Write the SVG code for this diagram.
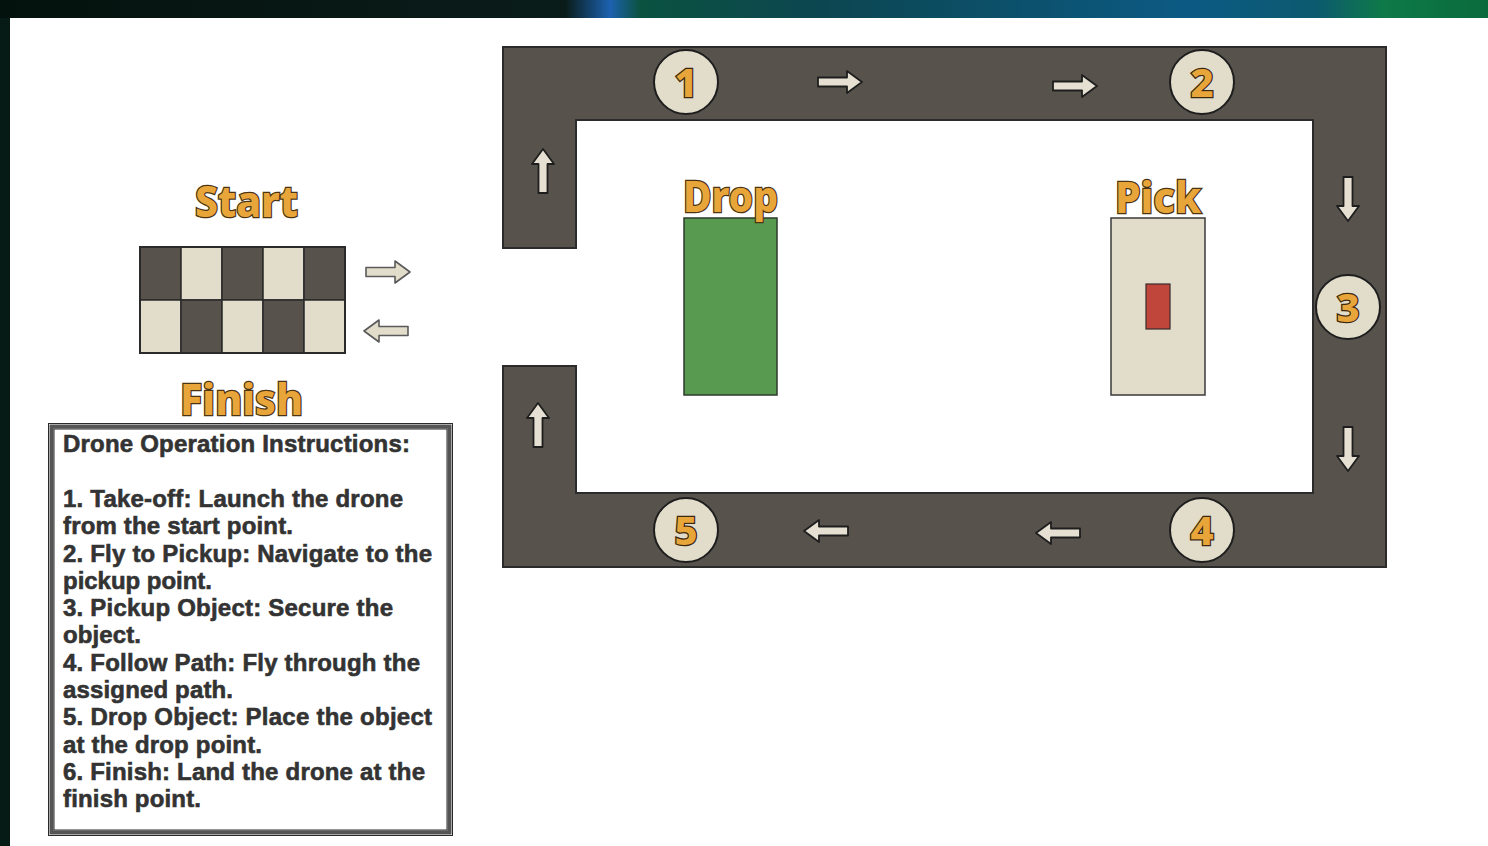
<svg xmlns="http://www.w3.org/2000/svg" width="1488" height="846" viewBox="0 0 1488 846">
<defs>
<linearGradient id="topbg" x1="0" y1="0" x2="1" y2="0">
<stop offset="0" stop-color="#04120d"/>
<stop offset="0.38" stop-color="#0a1c1a"/>
<stop offset="0.41" stop-color="#1c62b0"/>
<stop offset="0.43" stop-color="#0b5240"/>
<stop offset="0.55" stop-color="#0c4650"/>
<stop offset="0.8" stop-color="#0c5a84"/>
<stop offset="0.885" stop-color="#0c5a6e"/>
<stop offset="0.93" stop-color="#0e7a48"/>
<stop offset="1" stop-color="#0a6a3c"/>
</linearGradient>
<path id="arr" d="M-22,-4.5 H7 V-11 L22,0 L7,11 V4.5 H-22 Z"/>
<style>
.track{fill:#57534c;stroke:#2b2b2b;stroke-width:2;stroke-linejoin:miter}
.circ{fill:#e2dccb;stroke:#1e1e1e;stroke-width:2}
.num{font-family:"Noto Sans","DejaVu Sans",sans-serif;font-weight:800;font-size:40px;fill:#e8a53a;stroke:#3a2810;stroke-width:2.5;paint-order:stroke;text-anchor:middle}
.lbl{font-family:"Noto Sans","DejaVu Sans",sans-serif;font-weight:800;font-size:43px;fill:#e8a53a;stroke:#4a3414;stroke-width:2.5;paint-order:stroke}
.ta{fill:#e6e0d2;stroke:#1e1e1e;stroke-width:1.8;stroke-linejoin:round}
.sa{fill:#e2dccb;stroke:#5a5a5a;stroke-width:1.6;stroke-linejoin:round}
.dk{fill:#57534c;stroke:#2a2a2a;stroke-width:1.5}
.lt{fill:#e2dccb;stroke:#2a2a2a;stroke-width:1.5}
.ins{font-family:"Liberation Sans",Arial,sans-serif;font-weight:700;font-size:24px;fill:#333333;stroke:#333333;stroke-width:0.6}
</style>
</defs>
<rect x="0" y="0" width="1488" height="846" fill="#071b16"/>
<rect x="0" y="0" width="1488" height="18" fill="url(#topbg)"/>
<rect x="10" y="18" width="1478" height="828" fill="#ffffff"/>

<g id="track">
<path class="track" d="M503,47 H1386 V567 H503 V366 H576 V493 H1313 V120 H576 V248 H503 Z"/>
</g>

<g id="start-grid">
<rect class="dk" x="140" y="247" width="41" height="53"/>
<rect class="lt" x="181" y="247" width="41" height="53"/>
<rect class="dk" x="222" y="247" width="41" height="53"/>
<rect class="lt" x="263" y="247" width="41" height="53"/>
<rect class="dk" x="304" y="247" width="41" height="53"/>
<rect class="lt" x="140" y="300" width="41" height="53"/>
<rect class="dk" x="181" y="300" width="41" height="53"/>
<rect class="lt" x="222" y="300" width="41" height="53"/>
<rect class="dk" x="263" y="300" width="41" height="53"/>
<rect class="lt" x="304" y="300" width="41" height="53"/>
<rect x="140" y="247" width="205" height="106" fill="none" stroke="#2a2a2a" stroke-width="2"/>
</g>
<g id="start-label"><text class="lbl" x="195" y="217" textLength="103" lengthAdjust="spacingAndGlyphs">Start</text></g>
<g id="finish-label"><text class="lbl" x="180" y="415" textLength="123" lengthAdjust="spacingAndGlyphs">Finish</text></g>

<g id="drop">
<rect x="684" y="218" width="93" height="177" fill="#579a50" stroke="#2e3a2c" stroke-width="1.5"/>
<text class="lbl" x="683" y="212" textLength="95" lengthAdjust="spacingAndGlyphs">Drop</text>
</g>
<g id="pick">
<rect x="1111" y="218" width="94" height="177" fill="#e2dccb" stroke="#3a3a3a" stroke-width="1.5"/>
<rect x="1146" y="284" width="24" height="45" fill="#c0463b" stroke="#3a2a2a" stroke-width="1.2"/>
<text class="lbl" x="1115" y="213" textLength="86" lengthAdjust="spacingAndGlyphs">Pick</text>
</g>

<g id="cp1"><circle class="circ" cx="686" cy="82" r="32"/><text class="num" x="686" y="97">1</text></g>
<g id="cp2"><circle class="circ" cx="1202" cy="82" r="32"/><text class="num" x="1202" y="97">2</text></g>
<g id="cp3"><circle class="circ" cx="1348" cy="307" r="32"/><text class="num" x="1348" y="322">3</text></g>
<g id="cp4"><circle class="circ" cx="1202" cy="530" r="32"/><text class="num" x="1202" y="545">4</text></g>
<g id="cp5"><circle class="circ" cx="686" cy="530" r="32"/><text class="num" x="686" y="545">5</text></g>

<g id="connectors">
<use href="#arr" class="ta" transform="translate(840,82)"/>
<use href="#arr" class="ta" transform="translate(1075,86)"/>
<use href="#arr" class="ta" transform="translate(1348,199) rotate(90)"/>
<use href="#arr" class="ta" transform="translate(1348,449) rotate(90)"/>
<use href="#arr" class="ta" transform="translate(1058,533) rotate(180)"/>
<use href="#arr" class="ta" transform="translate(826,531) rotate(180)"/>
<use href="#arr" class="ta" transform="translate(538,425) rotate(-90)"/>
<use href="#arr" class="ta" transform="translate(543,171) rotate(-90)"/>
<use href="#arr" class="sa" transform="translate(388,272)"/>
<use href="#arr" class="sa" transform="translate(386,331) rotate(180)"/>
</g>

<g id="instructions">
<rect x="48.5" y="423.5" width="404" height="412" fill="#ffffff" stroke="#2a2a2a" stroke-width="1"/>
<rect x="51.5" y="426.5" width="398" height="406" fill="none" stroke="#555555" stroke-width="4"/>
<rect x="54" y="429" width="393" height="401" fill="none" stroke="#2a2a2a" stroke-width="1"/>
<text class="ins" x="63" y="452" textLength="347" lengthAdjust="spacing">Drone Operation Instructions:</text>
<text class="ins" x="63" y="507" textLength="340" lengthAdjust="spacing">1. Take-off: Launch the drone</text>
<text class="ins" x="63" y="534" textLength="230" lengthAdjust="spacing">from the start point.</text>
<text class="ins" x="63" y="562" textLength="369" lengthAdjust="spacing">2. Fly to Pickup: Navigate to the</text>
<text class="ins" x="63" y="589" textLength="149" lengthAdjust="spacing">pickup point.</text>
<text class="ins" x="63" y="616" textLength="330" lengthAdjust="spacing">3. Pickup Object: Secure the</text>
<text class="ins" x="63" y="643" textLength="78" lengthAdjust="spacing">object.</text>
<text class="ins" x="63" y="671" textLength="357" lengthAdjust="spacing">4. Follow Path: Fly through the</text>
<text class="ins" x="63" y="698" textLength="170" lengthAdjust="spacing">assigned path.</text>
<text class="ins" x="63" y="725" textLength="369" lengthAdjust="spacing">5. Drop Object: Place the object</text>
<text class="ins" x="63" y="753" textLength="199" lengthAdjust="spacing">at the drop point.</text>
<text class="ins" x="63" y="780" textLength="362" lengthAdjust="spacing">6. Finish: Land the drone at the</text>
<text class="ins" x="63" y="807" textLength="138" lengthAdjust="spacing">finish point.</text>
</g>
</svg>
